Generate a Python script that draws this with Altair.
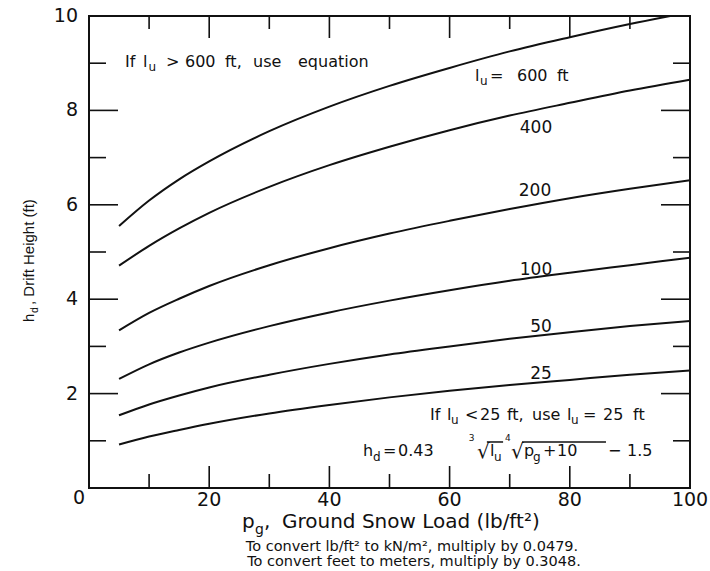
import altair as alt
import pandas as pd

# ---------------- data ----------------
pg = [5, 10, 15, 20, 30, 40, 50, 60, 70, 80, 90, 100]
hd_25 = [0.92, 1.09, 1.23, 1.36, 1.58, 1.76, 1.92, 2.06, 2.18, 2.29, 2.40, 2.49]
hd_50 = [1.54, 1.77, 1.96, 2.13, 2.40, 2.63, 2.83, 3.00, 3.16, 3.30, 3.43, 3.54]
hd_100 = [2.31, 2.62, 2.87, 3.08, 3.43, 3.72, 3.97, 4.19, 4.39, 4.56, 4.72, 4.88]
hd_200 = [3.34, 3.71, 4.01, 4.28, 4.72, 5.08, 5.39, 5.66, 5.91, 6.14, 6.34, 6.52]
hd_400 = [4.71, 5.13, 5.50, 5.83, 6.38, 6.84, 7.23, 7.58, 7.89, 8.16, 8.42, 8.65]
hd_600 = [5.55, 6.09, 6.54, 6.92, 7.56, 8.08, 8.52, 8.90, 9.25, 9.55, 9.83, 10.08]
lu_values = [25, 50, 100, 200, 400, 600]
series = [hd_25, hd_50, hd_100, hd_200, hd_400, hd_600]

x_major_ticks = [20, 40, 60, 80]
x_minor_ticks = [10, 30, 50, 70, 90]
y_major_ticks = [2, 4, 6, 8]
y_minor_ticks = [1, 3, 5, 7, 9]
x_labels = [20, 40, 60, 80, 100]
y_labels = [2, 4, 6, 8, 10]

# ---------------- layout ----------------
W, H = 601, 472
INK = "#111111"
DV = "DejaVu Sans"
LS = "Liberation Sans"

xs = alt.Scale(domain=[0, 100], nice=False, zero=False)
ys = alt.Scale(domain=[0, 10], nice=False, zero=False)

rows = []
for lu, vals in zip(lu_values, series):
    for p, h in zip(pg, vals):
        rows.append({"pg": p, "hd": h, "lu": lu})
df = pd.DataFrame(rows)
one = pd.DataFrame({"a": [0]})

lines = alt.Chart(df).mark_line(
    clip=True, strokeWidth=2, color=INK, interpolate="monotone"
).encode(
    x=alt.X("pg:Q", scale=xs, axis=None),
    y=alt.Y("hd:Q", scale=ys, axis=None),
    detail="lu:N",
)


def xticks(vals, length, top):
    y0 = 0 if top else H
    y1 = length if top else H - length
    return alt.Chart(pd.DataFrame({"v": vals})).mark_rule(
        color=INK, strokeWidth=1.6
    ).encode(x=alt.X("v:Q", scale=xs, axis=None), y=alt.value(y0), y2=alt.value(y1))


def yticks(vals, length, right):
    x0 = W if right else 0
    x1 = W - length if right else length
    return alt.Chart(pd.DataFrame({"v": vals})).mark_rule(
        color=INK, strokeWidth=1.6
    ).encode(y=alt.Y("v:Q", scale=ys, axis=None), x=alt.value(x0), x2=alt.value(x1))


ticks = [
    xticks(x_major_ticks, 22, False), xticks(x_minor_ticks, 14, False),
    xticks(x_major_ticks, 22, True), xticks(x_minor_ticks, 13, True),
    yticks(y_major_ticks, 29, False), yticks(y_minor_ticks, 17, False),
    yticks(y_major_ticks, 29, True), yticks(y_minor_ticks, 17, True),
]

xlab = alt.Chart(pd.DataFrame({"v": x_labels})).mark_text(
    font=DV, fontSize=19, align="center", baseline="middle", color=INK
).encode(x=alt.X("v:Q", scale=xs, axis=None), y=alt.value(H + 12), text=alt.Text("v:Q"))

ylab = alt.Chart(pd.DataFrame({"v": y_labels})).mark_text(
    font=DV, fontSize=19, align="right", baseline="middle", color=INK
).encode(y=alt.Y("v:Q", scale=ys, axis=None), x=alt.value(-11), text=alt.Text("v:Q"))


def dtxt(text, x, y, size, align="left", font=DV):
    return alt.Chart(one).mark_text(
        text=text, font=font, fontSize=size, align=align, baseline="alphabetic", color=INK
    ).encode(x=alt.XDatum(x, scale=xs, axis=None), y=alt.YDatum(y, scale=ys, axis=None))


def ptxt(text, x, y, size, align="left", font=DV, angle=0, baseline="alphabetic"):
    return alt.Chart(one).mark_text(
        text=text, font=font, fontSize=size, align=align, baseline=baseline,
        angle=angle, color=INK
    ).encode(x=alt.value(x), y=alt.value(y))


ann = []
# If l_u > 600 ft, use equation
for t, x in [("If", 5.99), ("l", 8.99), (">", 12.81), ("600", 15.97),
             ("ft,", 22.63), ("use", 27.29), ("equation", 34.78)]:
    ann.append(dtxt(t, x, 8.92, 16))
ann.append(dtxt("u", 9.90, 8.83, 12))

# l_u = 600 ft
for t, x in [("l", 64.23), ("=", 66.72), ("600", 71.21), ("ft", 77.87)]:
    ann.append(dtxt(t, x, 8.62, 16))
ann.append(dtxt("u", 65.06, 8.54, 12))

# curve labels
for t, x, y in [("400", 74.38, 7.52), ("200", 74.21, 6.19), ("100", 74.38, 4.51),
                ("50", 75.21, 3.31), ("25", 75.21, 2.31)]:
    ann.append(dtxt(t, x, y, 17, align="center"))

# If l_u < 25 ft, use l_u = 25 ft
for t, x in [("If", 56.74), ("l", 59.57), ("<", 62.56), ("25", 65.06), ("ft,", 69.55),
             ("use", 73.71), ("l", 79.53), ("=", 82.20), ("25", 85.52), ("ft", 90.52)]:
    ann.append(dtxt(t, x, 1.44, 16))
for x in [60.23, 80.20]:
    ann.append(dtxt("u", x, 1.36, 12))

# h_d = 0.43 cbrt(l_u) 4th-root(p_g + 10) - 1.5
for t, x in [("h", 45.59), ("=", 48.92), ("0.43", 51.41), ("l", 66.72),
             ("p", 72.38), ("+", 75.54), ("10", 77.87), ("\u2212", 86.36), ("1.5", 89.52)]:
    ann.append(dtxt(t, x, 0.678, 16))
for t, x in [("d", 47.25), ("u", 67.39), ("g", 73.88)]:
    ann.append(dtxt(t, x, 0.572, 12))
for t, x in [("3", 63.2), ("4", 69.2)]:
    ann.append(dtxt(t, x, 1.0, 9))
for x in [64.56, 70.22]:
    ann.append(dtxt("\u221a", x, 0.64, 20))
for a, b in [(66.2, 68.9), (72.05, 86.02)]:
    ann.append(alt.Chart(one).mark_rule(color=INK, strokeWidth=1.5).encode(
        x=alt.XDatum(a, scale=xs, axis=None), x2=alt.X2Datum(b),
        y=alt.YDatum(0.975, scale=ys, axis=None)))

# outside texts (pixel positions relative to the plot area)
outside = [
    ptxt("0", -10, H + 10, 19, align="center", baseline="middle"),
    # x title
    ptxt("p", 153, 512, 20),
    ptxt("g", 166, 518, 14),
    ptxt(",", 175, 512, 20),
    ptxt("Ground Snow Load (lb/ft\u00b2)", 193, 512, 20),
    # y title (rotated)
    ptxt("h", -55, 306, 15, font=LS, angle=270),
    ptxt("d", -51, 297, 10.5, font=LS, angle=270),
    ptxt(", Drift Height (ft)", -55, 289, 15, font=LS, angle=270),
    # footnotes
    ptxt("To convert lb/ft\u00b2  to kN/m\u00b2, multiply by 0.0479.", 323, 535, 14.5, align="center"),
    ptxt("To convert feet to meters, multiply by 0.3048.", 325, 550, 14.5, align="center"),
]

chart = alt.layer(lines, *ticks, xlab, ylab, *ann, *outside).properties(
    width=W, height=H,
    padding={"left": 89, "top": 16, "right": 20, "bottom": 83},
    autosize=alt.AutoSizeParams(type="none"),
    background="white",
).configure_view(stroke=INK, strokeWidth=2)

chart.save("out.html", embed_options={"renderer": "svg", "actions": False})
